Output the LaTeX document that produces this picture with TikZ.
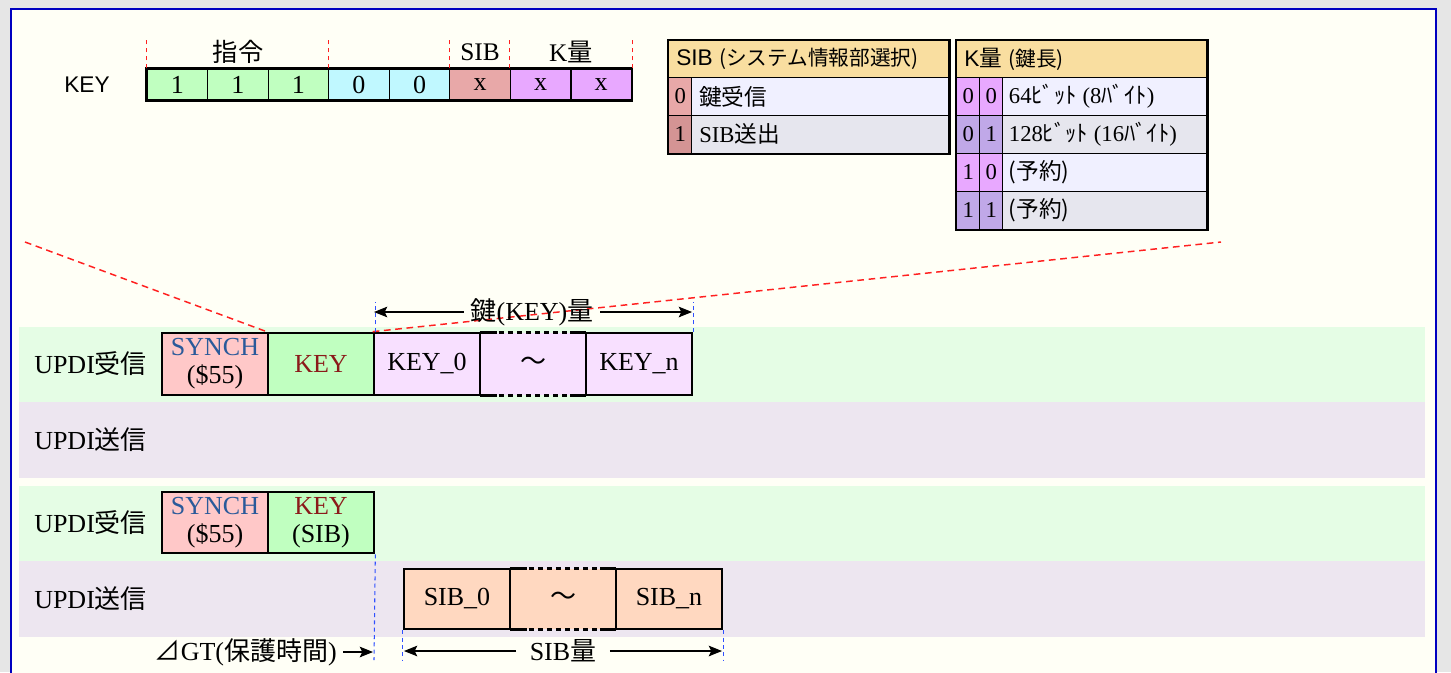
\documentclass[tikz,border=0pt]{standalone}
\usepackage{fontspec}
\setmainfont{Liberation Serif}
\setsansfont{Liberation Sans}
\newfontfamily\jpfont{Noto Sans CJK JP}
\newcommand\JP[1]{{\jpfont #1}}
\newcommand\px[1]{#1*0.75pt}
\usetikzlibrary{arrows.meta,calc}
\definecolor{cgray}{HTML}{E6E6E6}
\definecolor{cframe}{HTML}{0000C0}
\definecolor{civory}{HTML}{FFFFF6}
\definecolor{lanegreen}{HTML}{E5FDE5}
\definecolor{lanelav}{HTML}{EDE6F0}
\definecolor{rgreen}{HTML}{C0FFC0}
\definecolor{rcyan}{HTML}{C0F8FF}
\definecolor{rsib}{HTML}{E8A8A8}
\definecolor{rk}{HTML}{E8A8FF}
\definecolor{chdr}{HTML}{F9DEA0}
\definecolor{sib1}{HTML}{D49494}
\definecolor{k1}{HTML}{C0A8E8}
\definecolor{row0}{HTML}{F0F0FF}
\definecolor{row1}{HTML}{E6E6EE}
\definecolor{cpink}{HTML}{FFC8C8}
\definecolor{clilac}{HTML}{F8E0FF}
\definecolor{cpeach}{HTML}{FFD8C0}
\definecolor{synblue}{HTML}{2A5A9A}
\definecolor{keyred}{HTML}{8B1A1A}
\definecolor{dred}{HTML}{FF2020}
\definecolor{dblue}{HTML}{3050FF}
\newcommand\bxfont{\fontsize{19.5}{21}\selectfont}
\newcommand\tbfont{\fontsize{17}{18}\selectfont}
\begin{document}
\begin{tikzpicture}[x=0.75pt,y=-0.75pt,
  lanebox/.style={draw=black, line width=2pt, minimum width=\px{106}, minimum height=\px{62}, inner sep=0pt, align=center, font=\bxfont},
  tildebox/.style={minimum width=\px{106}, minimum height=\px{62}, inner sep=0pt, font=\bxfont},
  regcell/.style={draw=black, line width=0.9pt, minimum width=\px{60.56}, minimum height=\px{31}, inner sep=0pt, font=\fontsize{19.5}{20}\selectfont},
  tcell/.style={draw=black, line width=1pt, inner sep=0pt, anchor=north west, minimum height=\px{38}, font=\tbfont},
  ttext/.style={anchor=west, inner sep=0pt, font=\tbfont},
  lbl/.style={anchor=west, inner sep=0pt, font=\bxfont},
  reddash/.style={dred, line width=1.1pt, dash pattern=on 5pt off 3.5pt},
  regtick/.style={dred, line width=0.8pt, dash pattern=on 3pt off 3pt},
  bluedash/.style={dblue, line width=0.8pt, dash pattern=on 3pt off 2.5pt},
  dimarr/.style={line width=0.8pt, -{Stealth[length=10pt,width=8pt,inset=2pt]}},
  bline/.style={line width=2pt},
  bdash/.style={line width=2pt, dash pattern=on 3.8pt off 3pt},
]
\useasboundingbox (0,0) rectangle (1451,672);
\clip (0,0) rectangle (1451,672);
\fill[cgray] (0,0) rectangle (1451,672);
\draw[cframe, line width=1.5pt, fill=civory] (11,9) rectangle (1436,720);

% ---------- KEY register ----------
\node[font=\sffamily\fontsize{17}{20}\selectfont, inner sep=0pt] (keylbl) at (87,85) {KEY};
\foreach \i/\v/\c in {0/1/rgreen,1/1/rgreen,2/1/rgreen,3/0/rcyan,4/0/rcyan,5/x/rsib,6/x/rk,7/x/rk}
  \node[regcell, fill=\c] (r\i) at ({147+60.56*(\i+0.5)},84.5) {\v};
\draw[line width=2pt] (r0.north west) rectangle (r7.south east);
\draw[regtick] (r0.north west) -- ++(0,-29);
\draw[regtick] (r3.north west) -- ++(0,-29);
\draw[regtick] (r5.north west) -- ++(0,-29);
\draw[regtick] (r6.north west) -- ++(0,-29);
\draw[regtick] (r7.north east) -- ++(0,-29);
\node[font=\fontsize{19}{20}\selectfont] (lcmd) at (238,52) {\JP{指令}};
\node[font=\fontsize{19}{20}\selectfont] (lsib) at (480,52) {SIB};
\node[font=\fontsize{19}{20}\selectfont] (lk) at (571,52) {K\JP{量}};

% ---------- SIB table ----------
\node[tcell, fill=chdr, minimum width=\px{280}, minimum height=\px{37}] (sibh) at (668,40) {};
\node[ttext] (sibht) at ([xshift=6pt]sibh.west) {\sffamily\fontsize{17}{18}\selectfont SIB \JP{\fontsize{15.5}{18}\selectfont (システム情報部選択)}};
\node[tcell, fill=rsib, minimum width=\px{23}] (sibi0) at (668,76.7) {0};
\node[tcell, fill=row0, minimum width=\px{257}] (sibc0) at (691,76.7) {};
\node[ttext] (sibc0t) at ([xshift=6pt]sibc0.west) {\JP{鍵受信}};
\node[tcell, fill=sib1, minimum width=\px{23}] (sibi1) at (668,114.7) {1};
\node[tcell, fill=row1, minimum width=\px{257}] (sibc1) at (691,114.7) {};
\node[ttext] (sibc1t) at ([xshift=6pt]sibc1.west) {SIB\JP{送出}};
\draw[line width=2pt] (sibh.north west) rectangle (sibc1.south east);

% ---------- K table ----------
\node[tcell, fill=chdr, minimum width=\px{250}, minimum height=\px{37}] (kh) at (956,40) {};
\node[ttext] (kht) at ([xshift=6pt]kh.west) {\sffamily\fontsize{17}{18}\selectfont K\JP{量} \JP{\fontsize{15.5}{18}\selectfont (鍵長)}};
\foreach \r/\a/\b/\c/\rc/\t in {
   0/0/0/rk/row0/{64\JP{ﾋﾞｯﾄ} (8\JP{ﾊﾞｲﾄ})},
   1/0/1/k1/row1/{128\JP{ﾋﾞｯﾄ} (16\JP{ﾊﾞｲﾄ})},
   2/1/0/rk/row0/{\JP{(予約)}},
   3/1/1/k1/row1/{\JP{(予約)}}}{
  \node[tcell, fill=\c, minimum width=\px{23}] (ka\r) at (956,{76.7+38*\r}) {\a};
  \node[tcell, fill=\c, minimum width=\px{23}] (kb\r) at (979,{76.7+38*\r}) {\b};
  \node[tcell, fill=\rc, minimum width=\px{204}] (kc\r) at (1002,{76.7+38*\r}) {};
  \node[ttext] (kt\r) at ([xshift=5pt]kc\r.west) {\t};
}
\draw[line width=2pt] (kh.north west) rectangle (kc3.south east);

% ---------- lanes ----------
\fill[lanegreen] (19,327) rectangle (1425,402);
\fill[lanelav] (19,402) rectangle (1425,478);
\fill[lanegreen] (19,486) rectangle (1425,561);
\fill[lanelav] (19,561) rectangle (1425,637);
\node[lbl] (ln1) at (34,364) {UPDI\JP{受信}};
\node[lbl] (ln2) at (34,440) {UPDI\JP{送信}};
\node[lbl] (ln3) at (34,523) {UPDI\JP{受信}};
\node[lbl] (ln4) at (34,599) {UPDI\JP{送信}};

% ---------- lane 1 boxes ----------
\node[tildebox, fill=clilac] (kt) at (533,364) {\JP{～}};
\node[lanebox, fill=cpink] (syn1) at (215,364) {\textcolor{synblue}{SYNCH}\\(\$55)};
\node[lanebox, fill=rgreen] (key1) at (321,364) {\textcolor{keyred}{KEY}};
\node[lanebox, fill=clilac] (k0) at (427,364) {KEY\_0};
\node[lanebox, fill=clilac] (kn) at (639,364) {KEY\_n};
\draw[bline] (kt.north west) -- ($(kt.north west)+(17,0)$);
\draw[bdash] ($(kt.north west)+(19,0)$) -- ($(kt.north east)+(-17,0)$);
\draw[bline] ($(kt.north east)+(-16,0)$) -- (kt.north east);
\draw[bline] (kt.south west) -- ($(kt.south west)+(17,0)$);
\draw[bdash] ($(kt.south west)+(19,0)$) -- ($(kt.south east)+(-17,0)$);
\draw[bline] ($(kt.south east)+(-16,0)$) -- (kt.south east);

% red dashed zoom lines
\coordinate (zl) at (25,242);
\coordinate (zr) at (1221,242);
\draw[reddash] (zl) -- (key1.north west);
\draw[reddash] (k0.north west) -- (zr);

% key length dimension
\draw[bluedash] (key1.north east) -- ++(0,-30);
\draw[bluedash] (kn.north east) -- ++(0,-30);
\coordinate (kdA) at (374,312);
\coordinate (kdB) at (692,312);
\node[font=\bxfont, inner sep=5pt] (kdl) at (532,312) {\JP{鍵}(KEY)\JP{量}};
\draw[dimarr] (kdl.west) -- (kdA);
\draw[dimarr] (kdl.east) -- (kdB);

% ---------- lane 3 boxes ----------
\node[lanebox, fill=cpink, minimum height=\px{61}] (syn2) at (215,522.5) {\textcolor{synblue}{SYNCH}\\(\$55)};
\node[lanebox, fill=rgreen, minimum height=\px{61}] (key2) at (321,522.5) {\textcolor{keyred}{KEY}\\(SIB)};

% ---------- lane 4 boxes ----------
\node[tildebox, fill=cpeach, minimum height=\px{60}] (st) at (563,599) {\JP{～}};
\node[lanebox, fill=cpeach, minimum height=\px{60}] (s0) at (457,599) {SIB\_0};
\node[lanebox, fill=cpeach, minimum height=\px{60}] (sn) at (669,599) {SIB\_n};
\draw[bline] (st.north west) -- ($(st.north west)+(17,0)$);
\draw[bdash] ($(st.north west)+(19,0)$) -- ($(st.north east)+(-17,0)$);
\draw[bline] ($(st.north east)+(-16,0)$) -- (st.north east);
\draw[bline] (st.south west) -- ($(st.south west)+(17,0)$);
\draw[bdash] ($(st.south west)+(19,0)$) -- ($(st.south east)+(-17,0)$);
\draw[bline] ($(st.south east)+(-16,0)$) -- (st.south east);

% guard time and SIB length
\coordinate (gtA) at (373,652);
\draw[bluedash] (key2.south east) -- (374,660);
\node[font=\bxfont, anchor=east, inner sep=0pt] (gtl) at (337,652) {\JP{⊿}GT(\JP{保護時間})};
\draw[dimarr] ([xshift=4.5pt]gtl.east) -- (gtA);
\draw[bluedash] (s0.south west) -- ++(0,31);
\draw[bluedash] (sn.south east) -- ++(0,31);
\coordinate (sdA) at (404,651);
\coordinate (sdB) at (722,651);
\node[font=\bxfont, inner sep=10pt] (sdl) at (563,651) {SIB\JP{量}};
\draw[dimarr] (sdl.west) -- (sdA);
\draw[dimarr] (sdl.east) -- (sdB);
\end{tikzpicture}
\end{document}
